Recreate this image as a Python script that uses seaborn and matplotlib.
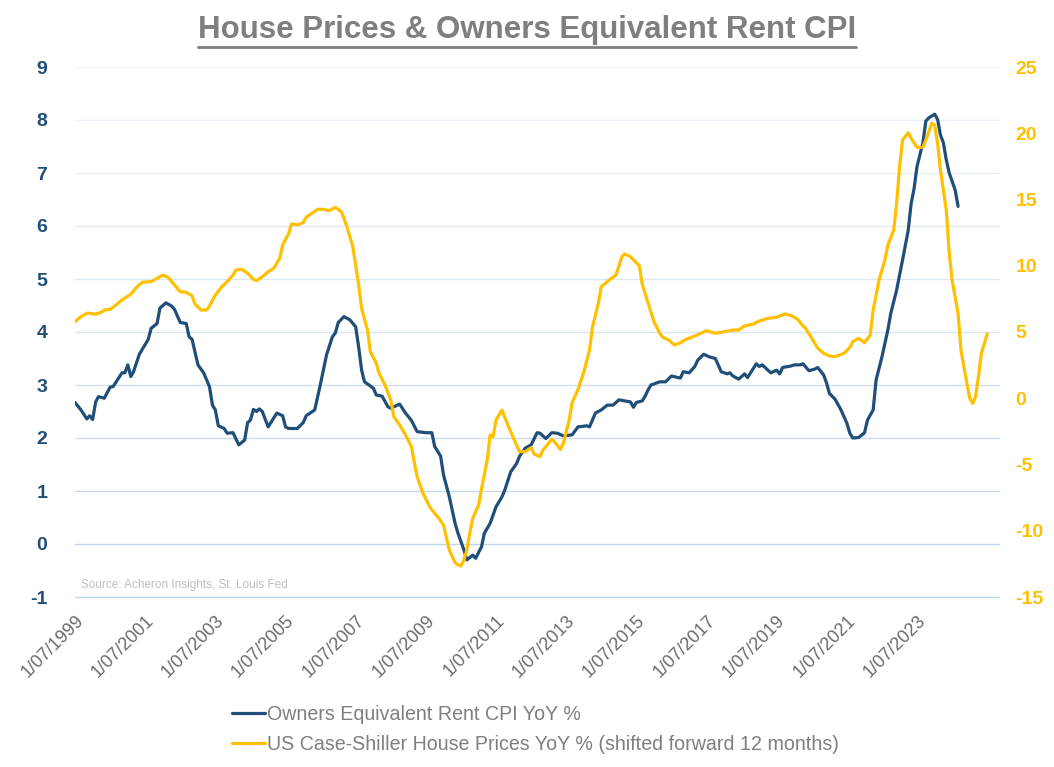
import matplotlib
matplotlib.use("Agg")
import matplotlib.pyplot as plt
from matplotlib import font_manager
from matplotlib.lines import Line2D
from matplotlib.colors import to_rgb
import seaborn as sns
import pandas as pd

# series start date; both series are keyed by months after this date
base_date = pd.Timestamp("1999-07-01")

# Owners Equivalent Rent CPI YoY % (left axis)
oer_months = [0, 2, 4, 5, 6, 7, 8, 10, 12, 13, 16, 17, 18, 19, 20, 22, 25, 26, 28, 29,
              31, 33, 34, 36, 38, 39, 40, 42, 44, 46, 47, 48, 49, 51, 52, 54, 56, 58, 59, 60,
              61, 62, 63, 64, 66, 69, 71, 72, 73, 76, 78, 79, 82, 84, 86, 88, 89, 90, 92, 94,
              96, 97, 98, 99, 102, 103, 105, 107, 108, 111, 113, 115, 117, 120, 122, 123, 125, 126, 128, 130,
              131, 133, 134, 136, 137, 139, 140, 142, 144, 146, 147, 149, 151, 152, 154, 156, 158, 159, 161, 163,
              165, 167, 170, 172, 175, 176, 178, 180, 182, 184, 186, 188, 190, 191, 192, 194, 195, 196, 197, 200,
              202, 204, 207, 208, 210, 212, 213, 215, 217, 219, 221, 223, 224, 225, 227, 229, 230, 233, 234, 235,
              238, 240, 241, 242, 245, 246, 248, 249, 251, 253, 254, 256, 257, 258, 260, 262, 264, 265, 266, 268,
              270, 271, 273, 274, 276, 278, 279, 281, 283, 285, 286, 287, 288, 290, 291, 292, 294, 295, 296, 297,
              298, 299, 301, 302]
oer_values = [2.67, 2.53, 2.36, 2.42, 2.35, 2.68, 2.78, 2.75, 2.96, 2.97, 3.23, 3.23, 3.38, 3.16, 3.25, 3.58, 3.86, 4.07, 4.16, 4.45,
              4.55, 4.49, 4.43, 4.18, 4.16, 3.91, 3.86, 3.38, 3.23, 2.97, 2.62, 2.53, 2.23, 2.18, 2.09, 2.10, 1.87, 1.96, 2.29, 2.34,
              2.54, 2.50, 2.55, 2.50, 2.21, 2.47, 2.42, 2.21, 2.18, 2.18, 2.29, 2.42, 2.53, 3.03, 3.57, 3.91, 3.98, 4.18, 4.29, 4.23,
              4.10, 3.72, 3.28, 3.06, 2.94, 2.81, 2.79, 2.59, 2.56, 2.64, 2.47, 2.33, 2.12, 2.10, 2.10, 1.84, 1.66, 1.30, 0.90, 0.39,
              0.20, -0.11, -0.30, -0.21, -0.27, -0.05, 0.20, 0.39, 0.70, 0.89, 1.02, 1.36, 1.52, 1.65, 1.81, 1.87, 2.10, 2.09, 1.99, 2.10,
              2.09, 2.04, 2.06, 2.21, 2.23, 2.21, 2.47, 2.53, 2.62, 2.62, 2.72, 2.70, 2.68, 2.58, 2.67, 2.70, 2.79, 2.91, 3.00, 3.06,
              3.06, 3.17, 3.13, 3.25, 3.23, 3.35, 3.47, 3.58, 3.53, 3.50, 3.25, 3.21, 3.23, 3.17, 3.11, 3.21, 3.14, 3.40, 3.35, 3.38,
              3.23, 3.28, 3.21, 3.33, 3.36, 3.38, 3.38, 3.40, 3.27, 3.30, 3.33, 3.19, 3.04, 2.84, 2.73, 2.53, 2.28, 2.09, 2.00, 2.01,
              2.10, 2.34, 2.53, 3.09, 3.53, 4.04, 4.35, 4.79, 5.36, 5.92, 6.42, 6.71, 7.12, 7.57, 7.98, 8.04, 8.11, 8.01, 7.72, 7.57,
              7.25, 7.00, 6.68, 6.37]

# US Case-Shiller House Prices YoY %, shifted forward 12 months (right axis)
hpi_months = [0, 2, 4, 5, 7, 9, 10, 12, 14, 16, 19, 21, 23, 26, 28, 30, 32, 34, 36, 38,
              40, 41, 43, 45, 46, 48, 50, 52, 54, 55, 57, 59, 61, 62, 64, 66, 68, 70, 71, 73,
              74, 76, 78, 79, 81, 83, 85, 87, 89, 91, 92, 93, 95, 96, 97, 98, 100, 101, 103, 104,
              106, 108, 109, 111, 113, 115, 116, 117, 119, 121, 122, 124, 126, 127, 128, 130, 131, 132, 133, 134,
              135, 136, 138, 139, 141, 142, 143, 144, 146, 148, 150, 151, 152, 154, 156, 157, 159, 160, 163, 164,
              166, 167, 169, 170, 172, 174, 176, 177, 179, 180, 182, 183, 185, 186, 187, 188, 190, 193, 194, 196,
              198, 200, 201, 203, 205, 207, 209, 212, 214, 216, 219, 222, 225, 227, 229, 232, 234, 237, 240, 241,
              243, 245, 247, 249, 250, 252, 254, 256, 258, 260, 263, 265, 266, 268, 270, 272, 273, 275, 277, 278,
              280, 281, 282, 283, 285, 286, 288, 290, 291, 293, 294, 295, 296, 298, 299, 300, 302, 303, 305, 306,
              307, 308, 309, 310, 312]
hpi_values = [5.78, 6.16, 6.41, 6.41, 6.34, 6.49, 6.66, 6.71, 7.04, 7.42, 7.85, 8.37, 8.75, 8.80, 9.05, 9.30, 9.10, 8.55, 8.04, 8.00,
              7.72, 7.11, 6.66, 6.66, 6.96, 7.79, 8.37, 8.80, 9.30, 9.68, 9.73, 9.43, 8.98, 8.87, 9.17, 9.55, 9.81, 10.56, 11.57, 12.40,
              13.15, 13.08, 13.25, 13.66, 13.96, 14.26, 14.26, 14.16, 14.41, 14.08, 13.58, 12.95, 11.44, 10.06, 8.55, 6.79, 5.15, 3.51, 2.64, 1.89,
              1.00, -0.13, -1.39, -2.02, -2.77, -3.66, -4.79, -5.92, -7.18, -8.06, -8.43, -8.94, -9.57, -10.57, -11.45, -12.41, -12.58, -12.66, -12.21, -11.45,
              -10.19, -9.06, -8.06, -6.80, -4.66, -2.77, -2.90, -1.64, -0.90, -2.02, -3.03, -3.53, -4.03, -4.03, -3.73, -4.21, -4.41, -3.91, -3.10, -3.28,
              -3.86, -3.40, -1.64, -0.34, 0.67, 2.00, 3.64, 5.40, 7.17, 8.42, 8.80, 8.98, 9.30, 9.98, 10.68, 10.89, 10.68, 10.00, 8.60, 7.17,
              5.78, 4.90, 4.60, 4.40, 4.02, 4.19, 4.45, 4.70, 4.90, 5.10, 4.90, 5.02, 5.15, 5.15, 5.45, 5.60, 5.83, 6.03, 6.11, 6.21,
              6.36, 6.23, 5.98, 5.45, 5.25, 4.52, 3.77, 3.39, 3.19, 3.14, 3.39, 3.84, 4.27, 4.52, 4.19, 4.77, 6.66, 8.92, 10.43, 11.57,
              12.70, 14.71, 17.48, 19.49, 20.04, 19.62, 18.94, 18.94, 19.49, 20.75, 20.62, 19.24, 17.23, 14.21, 10.94, 8.92, 6.41, 3.64, 1.13, 0.00,
              -0.38, 0.12, 1.63, 3.39, 4.85]

oer_label = "Owners Equivalent Rent CPI YoY %"
hpi_label = "US Case-Shiller House Prices YoY % (shifted forward 12 months)"
title = "House Prices & Owners Equivalent Rent CPI"
source = "Source: Acheron Insights, St. Louis Fed"

left_ticks = list(range(-1, 10))
right_ticks = list(range(-15, 26, 5))
tick_step_months = 24
n_ticks = 13
axis_end_months = 316

blue = "#1f4e79"
gold = "#ffc000"
grey = "#7f7f7f"
grid_top = "#f1f4f8"
grid_bottom = "#bcd4ec"

oer = pd.DataFrame({"date": [base_date + pd.DateOffset(months=m) for m in oer_months],
                    "value": oer_values})
hpi = pd.DataFrame({"date": [base_date + pd.DateOffset(months=m) for m in hpi_months],
                    "value": hpi_values})

sns.set_style("white")
names = {f.name for f in font_manager.fontManager.ttflist}
narrow = "Liberation Sans Narrow" if "Liberation Sans Narrow" in names else "Liberation Sans"
plt.rcParams["font.family"] = ["Liberation Sans", "DejaVu Sans"]
plt.rcParams["axes.unicode_minus"] = False

fig = plt.figure(figsize=(10.54, 7.67), dpi=100)
ax = fig.add_axes([75 / 1054, 1 - 597 / 767, 924 / 1054, 530 / 767])
ax2 = ax.twinx()

sns.lineplot(data=oer, x="date", y="value", ax=ax, color=blue, linewidth=2.3, label=oer_label)
sns.lineplot(data=hpi, x="date", y="value", ax=ax2, color=gold, linewidth=2.3, label=hpi_label)

for a in (ax, ax2):
    if a.get_legend() is not None:
        a.get_legend().remove()
    for s in a.spines.values():
        s.set_visible(False)
    a.set_xlabel("")
    a.set_ylabel("")

ax.set_ylim(-1, 9)
ax.set_yticks(left_ticks)
ax2.set_ylim(-15, 25)
ax2.set_yticks(right_ticks)
ax.grid(axis="y", linewidth=1)
ax.grid(axis="x", visible=False)
ax2.grid(False)

# gridlines fade from light blue at the bottom to near white at the top
c0, c1 = to_rgb(grid_bottom), to_rgb(grid_top)
glines = ax.get_ygridlines()
for i, gl in enumerate(glines):
    f = i / (len(glines) - 1)
    gl.set_color(tuple(a + (b - a) * f for a, b in zip(c0, c1)))
    gl.set_clip_on(False)

tick_dates = [base_date + pd.DateOffset(months=tick_step_months * k) for k in range(n_ticks)]
ax.set_xlim(base_date, base_date + pd.DateOffset(months=axis_end_months))
ax.set_xticks(tick_dates)
ax.set_xticklabels([f"{d.day}/{d.month:02d}/{d.year}" for d in tick_dates],
                   rotation=45, ha="right", rotation_mode="anchor",
                   fontsize=13, color="#6a6a6a")
ax.tick_params(axis="x", length=0, pad=11)
ax.tick_params(axis="y", length=0, pad=20, labelsize=14, labelcolor=blue)
ax2.tick_params(axis="y", length=0, pad=12, labelsize=14, labelcolor=gold)
for lab in ax.get_yticklabels() + ax2.get_yticklabels():
    lab.set_fontweight("bold")

ax.text(0.006, 0.012, source, transform=ax.transAxes, fontsize=8.5,
        color="#bfbfbf", ha="left", va="bottom")

t = fig.text(0.5, 1 - 30 / 767, title, ha="center", va="center", fontsize=22.5,
             fontweight="bold", color=grey, family=[narrow, "DejaVu Sans"])

handles = [Line2D([], [], color=blue, linewidth=2.3), Line2D([], [], color=gold, linewidth=2.3)]
fig.legend(handles, [oer_label, hpi_label], loc="upper left",
           bbox_to_anchor=(222 / 1054, 1 - 695 / 767), frameon=False, borderpad=0,
           handlelength=1.7, handletextpad=0.1, labelspacing=0.55,
           prop={"family": narrow, "size": 14.1}, labelcolor=grey)

# underline the title
fig.canvas.draw()
bb = t.get_window_extent(fig.canvas.get_renderer())
y_line = (bb.y0 - 2) / fig.bbox.height
fig.add_artist(Line2D([bb.x0 / fig.bbox.width, bb.x1 / fig.bbox.width], [y_line, y_line],
                      color=grey, linewidth=2, transform=fig.transFigure))

fig.savefig("out.png", dpi=100)
